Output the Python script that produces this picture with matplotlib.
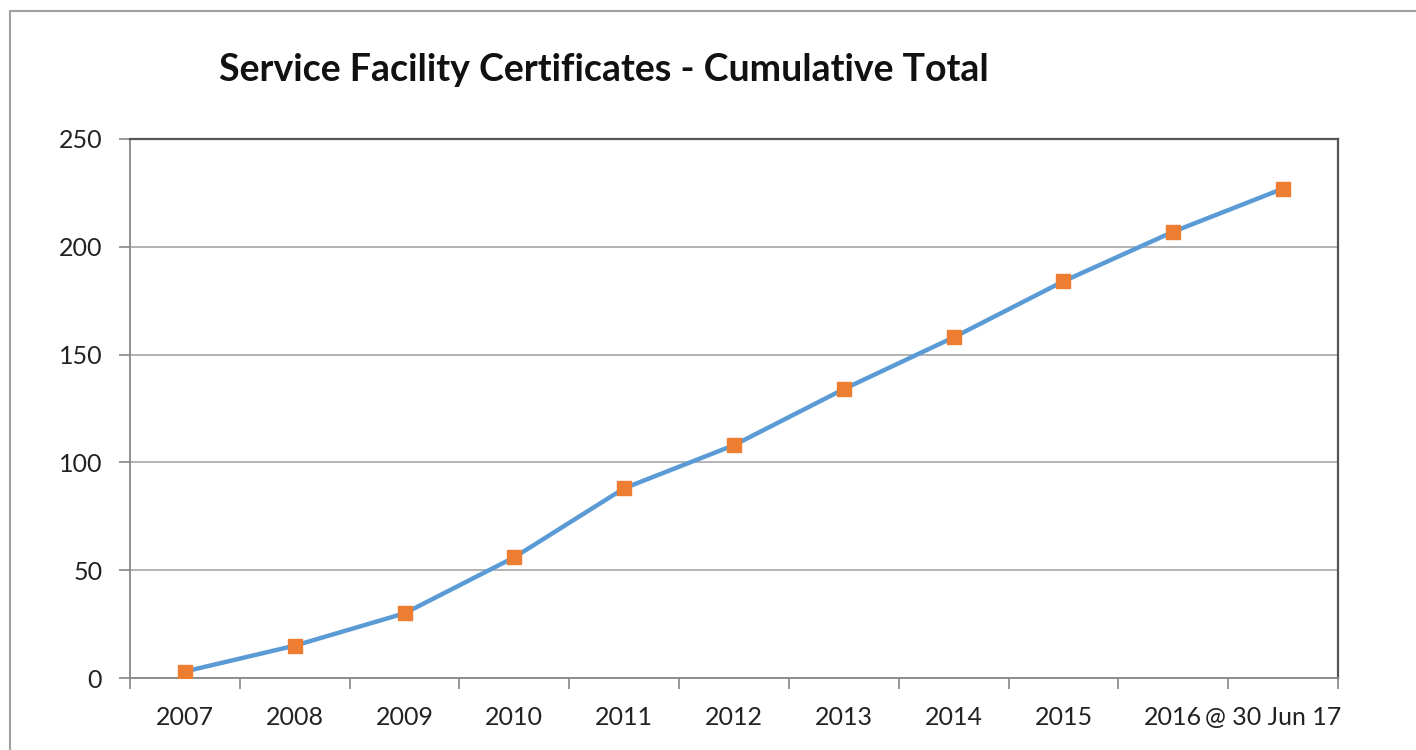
import matplotlib
matplotlib.use("Agg")
import matplotlib.pyplot as plt
import matplotlib.transforms as mtransforms
from matplotlib.patches import Rectangle
import numpy as np

categories = ["2007", "2008", "2009", "2010", "2011", "2012", "2013", "2014", "2015", "2016", "@ 30 Jun 17"]
values = [3, 15, 30, 56, 88, 108, 134, 158, 184, 207, 227]
yticks = [0, 50, 100, 150, 200, 250]
title = "Service Facility Certificates - Cumulative Total"

plt.rcParams['font.family'] = ['Lato', 'DejaVu Sans']

fig = plt.figure(figsize=(14.16, 7.5), dpi=100)
fig.patch.set_facecolor('white')
# outer frame
fig.add_artist(Rectangle((10/1416, -0.01), 1.05, 1 - 11/750 + 0.01, transform=fig.transFigure,
                         fill=False, edgecolor='#a0a0a0', linewidth=1.5))

ax = fig.add_axes([130/1416, 1 - 678/750, (1338 - 130)/1416, (678 - 139)/750])
x = np.arange(len(categories))
ax.plot(x, values, color='#5B9BD5', linewidth=3.2, zorder=3,
        marker='s', markersize=10, markerfacecolor='#ED7D31', markeredgecolor='#ED7D31')

ax.set_xlim(-0.5, len(categories) - 0.5)
ax.set_ylim(0, 250)
ax.set_yticks(yticks)
ax.set_yticklabels([str(v) for v in yticks], fontsize=18, color='#222222')
ax.set_xticks(x)
ax.set_xticklabels(categories, fontsize=18, color='#222222')
ax.tick_params(axis='x', which='major', length=0, pad=20)
ax.set_xticks(np.arange(-0.5, len(categories)), minor=True)
ax.tick_params(axis='x', which='minor', length=8, color='#888888', width=1.2)
ax.tick_params(axis='y', length=8, color='#888888', width=1.2, pad=12)

# nudge the last label left so it reads continuously with "2016"
last = ax.get_xticklabels()[-1]
last.set_transform(last.get_transform() + mtransforms.ScaledTranslation(-10/100, 0, fig.dpi_scale_trans))

ax.grid(axis='y', color='#a6a6a6', linewidth=1.2)
ax.set_axisbelow(True)
for s in ['left', 'bottom']:
    ax.spines[s].set_color('#888888')
    ax.spines[s].set_linewidth(1.3)
for s in ['top', 'right']:
    ax.spines[s].set_color('#555555')
    ax.spines[s].set_linewidth(1.6)

fig.text(604/1416, 1 - 70/750, title, ha='center', va='center', fontsize=27, fontweight='bold', color='#111111')

fig.savefig('out.png', dpi=100)
